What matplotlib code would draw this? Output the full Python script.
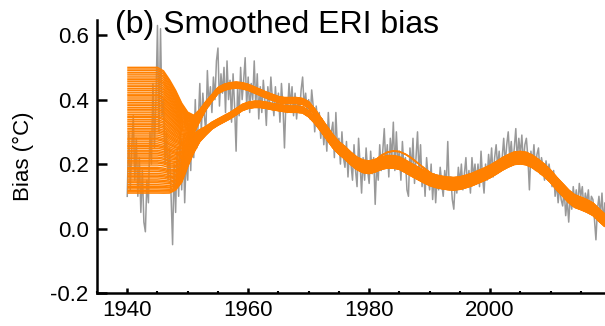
import numpy as np
import matplotlib
matplotlib.use("Agg")
import matplotlib.pyplot as plt
from matplotlib.ticker import MultipleLocator

plt.rcParams['font.family'] = ['Liberation Sans', 'DejaVu Sans']

# ---------------- data ----------------
# gray: raw ERI bias, quarterly readings 1940.00 .. 2019.75
gray_start = 1940.0
gray_step = 0.25
gray_vals = [
    0.10, 0.30, 0.12, 0.25,   # 1940
    0.35, 0.15, 0.28, 0.10,   # 1941
    0.22, 0.05, 0.18, 0.02,   # 1942
    -0.01, 0.15, 0.08, 0.30,  # 1943
    0.20, 0.45, 0.25, 0.40,   # 1944
    0.63, 0.30, 0.62, 0.35,   # 1945
    0.40, 0.20, 0.30, 0.15,   # 1946
    0.25, 0.10, -0.05, 0.20,  # 1947
    0.05, 0.25, 0.10, 0.30,   # 1948
    0.12, 0.28, 0.08, 0.22,   # 1949
    0.15, 0.30, 0.18, 0.35,   # 1950
    0.22, 0.40, 0.25, 0.33,   # 1951
    0.45, 0.30, 0.42, 0.35,   # 1952
    0.30, 0.49, 0.38, 0.44,   # 1953
    0.36, 0.47, 0.40, 0.52,   # 1954
    0.56, 0.38, 0.48, 0.42,   # 1955
    0.50, 0.36, 0.52, 0.40,   # 1956
    0.46, 0.33, 0.48, 0.38,   # 1957
    0.24, 0.44, 0.35, 0.50,   # 1958
    0.40, 0.46, 0.53, 0.38,   # 1959
    0.47, 0.36, 0.45, 0.40,   # 1960
    0.52, 0.38, 0.48, 0.34,   # 1961
    0.44, 0.36, 0.46, 0.40,   # 1962
    0.32, 0.44, 0.38, 0.47,   # 1963
    0.40, 0.35, 0.44, 0.37,   # 1964
    0.42, 0.33, 0.45, 0.38,   # 1965
    0.25, 0.40, 0.36, 0.45,   # 1966
    0.38, 0.44, 0.35, 0.42,   # 1967
    0.34, 0.40, 0.36, 0.43,   # 1968
    0.47, 0.38, 0.42, 0.36,   # 1969
    0.40, 0.34, 0.43, 0.38,   # 1970
    0.30, 0.38, 0.33, 0.36,   # 1971
    0.28, 0.34, 0.26, 0.32,   # 1972
    0.24, 0.36, 0.27, 0.30,   # 1973
    0.33, 0.22, 0.36, 0.25,   # 1974
    0.28, 0.20, 0.30, 0.22,   # 1975
    0.19, 0.27, 0.16, 0.24,   # 1976
    0.20, 0.15, 0.26, 0.18,   # 1977
    0.13, 0.28, 0.20, 0.11,   # 1978
    0.22, 0.15, 0.25, 0.18,   # 1979
    0.14, 0.24, 0.17, 0.22,   # 1980
    0.075, 0.20, 0.15, 0.26,  # 1981
    0.18, 0.24, 0.31, 0.20,   # 1982
    0.26, 0.16, 0.28, 0.22,   # 1983
    0.33, 0.18, 0.30, 0.20,   # 1984
    0.24, 0.15, 0.27, 0.19,   # 1985
    0.22, 0.12, 0.10, 0.25,   # 1986
    0.18, 0.28, 0.14, 0.22,   # 1987
    0.30, 0.17, 0.26, 0.13,   # 1988
    0.19, 0.10, 0.22, 0.16,   # 1989
    0.12, 0.20, 0.09, 0.17,   # 1990
    0.08, 0.16, 0.12, 0.19,   # 1991
    0.14, 0.10, 0.18, 0.13,   # 1992
    0.27, 0.12, 0.16, 0.09,   # 1993
    0.06, 0.15, 0.11, 0.19,   # 1994
    0.14, 0.20, 0.12, 0.17,   # 1995
    0.22, 0.13, 0.18, 0.11,   # 1996
    0.22, 0.16, 0.20, 0.14,   # 1997
    0.20, 0.13, 0.24, 0.16,   # 1998
    0.11, 0.20, 0.15, 0.23,   # 1999
    0.18, 0.25, 0.16, 0.22,   # 2000
    0.26, 0.19, 0.24, 0.18,   # 2001
    0.22, 0.28, 0.20, 0.26,   # 2002
    0.30, 0.22, 0.27, 0.20,   # 2003
    0.25, 0.31, 0.21, 0.28,   # 2004
    0.23, 0.29, 0.20, 0.26,   # 2005
    0.28, 0.22, 0.12, 0.24,   # 2006
    0.20, 0.26, 0.18, 0.23,   # 2007
    0.25, 0.17, 0.22, 0.19,   # 2008
    0.15, 0.21, 0.17, 0.20,   # 2009
    0.16, 0.13, 0.18, 0.10,   # 2010
    0.14, 0.08, 0.13, 0.09,   # 2011
    0.07, 0.12, 0.04, 0.09,   # 2012
    0.02, 0.10, 0.06, 0.13,   # 2013
    0.08, 0.12, 0.07, 0.14,   # 2014
    0.10, 0.13, 0.06, 0.11,   # 2015
    0.08, 0.12, 0.05, 0.10,   # 2016
    0.09, 0.03, -0.035, 0.06, # 2017
    0.10, 0.04, 0.11, 0.02,   # 2018
    0.08, 0.06, 0.10, 0.05,   # 2019
]

# orange: smoothed ensemble, yearly 1940..2019
smooth_years = list(range(1940, 2020))
start_vals = [0.110, 0.114, 0.118, 0.123, 0.128, 0.131, 0.136, 0.142, 0.147, 0.151,
              0.157, 0.162, 0.166, 0.171, 0.177, 0.182, 0.186, 0.190, 0.197, 0.203,
              0.207, 0.212, 0.218, 0.222, 0.228, 0.233, 0.238, 0.243, 0.249, 0.254,
              0.258, 0.263, 0.269, 0.275, 0.279, 0.284, 0.290, 0.296, 0.301, 0.306,
              0.311, 0.317, 0.322, 0.327, 0.333, 0.338, 0.344, 0.348, 0.353, 0.359,
              0.365, 0.370, 0.375, 0.381, 0.386, 0.391, 0.397, 0.402, 0.408, 0.413,
              0.417, 0.423, 0.429, 0.434, 0.440, 0.445, 0.451, 0.457, 0.462, 0.467,
              0.473, 0.479, 0.484, 0.490, 0.495, 0.500]
alt_members = [0.186, 0.190, 0.197]
split_value = 0.31
spread = 0.10
spread_center = 0.305

blend_weight = ([0.0] * 6 +
                [0.03, 0.11, 0.23, 0.41, 0.63, 0.78, 0.90, 0.96, 0.99] +
                [1.0] * 65)

path_early = [0.12, 0.12, 0.12, 0.12, 0.12, 0.12,
              0.12, 0.13, 0.17, 0.21, 0.26, 0.29]            # 1940-1951
path_common = [0.25, 0.235, 0.217, 0.202, 0.193,                # 1975-1979
               0.19, 0.195, 0.203, 0.207, 0.207, 0.203, 0.193, 0.182, 0.172, 0.162,
               0.153, 0.147, 0.143, 0.14, 0.139, 0.141, 0.146, 0.152, 0.16, 0.168,
               0.177, 0.188, 0.2, 0.21, 0.218, 0.22, 0.217, 0.208, 0.195, 0.18,
               0.162, 0.14, 0.12, 0.1, 0.085, 0.078, 0.07, 0.06, 0.042, 0.025]
path_hi = path_early + [0.335, 0.37, 0.395,                      # 1952-1954
                        0.418, 0.428, 0.433, 0.435, 0.433, 0.428, 0.42, 0.412, 0.404, 0.397,
                        0.39, 0.387, 0.387, 0.387, 0.384, 0.374, 0.352, 0.325, 0.298, 0.272
                        ] + path_common
path_lo = path_early + [0.307, 0.317, 0.33,
                        0.34, 0.35, 0.36, 0.372, 0.385, 0.392, 0.395, 0.395, 0.392, 0.388,
                        0.385, 0.382, 0.38, 0.38, 0.378, 0.366, 0.346, 0.322, 0.296, 0.27
                        ] + path_common
alt_bump = [0.223, 0.238, 0.248, 0.252, 0.25, 0.242, 0.23, 0.215, 0.2,
            0.186, 0.173, 0.162, 0.155, 0.15]                   # 1981-1994
path_alt = path_lo[:41] + alt_bump + path_lo[55:]

xlim = (1935, 2019)
ylim = (-0.2, 0.647)
title = "(b) Smoothed ERI bias"
ylabel = "Bias (\u00b0C)"

# ---------------- figure ----------------
fig = plt.figure(figsize=(6.05, 3.26), dpi=100)
ax = fig.add_axes([97 / 605, 33 / 326, 508 / 605, 273 / 326])

gx = gray_start + gray_step * np.arange(len(gray_vals))
ax.plot(gx, gray_vals, color='#999999', lw=1.1, zorder=2)

w = np.array(blend_weight)
yrs = np.array(smooth_years)
for s in start_vals:
    if s in alt_members:
        p = np.array(path_alt)
    elif s >= split_value:
        p = np.array(path_hi)
    else:
        p = np.array(path_lo)
    y = s * (1 - w) + (p + spread * (s - spread_center)) * w
    ax.plot(yrs, y, color='#ff8000', lw=1.05, zorder=3, solid_capstyle='butt')

ax.set_xlim(*xlim)
ax.set_ylim(*ylim)
for side in ('top', 'right'):
    ax.spines[side].set_visible(False)
for side in ('left', 'bottom'):
    ax.spines[side].set_linewidth(1.8)

ax.xaxis.set_major_locator(MultipleLocator(20))
ax.xaxis.set_minor_locator(MultipleLocator(5))
ax.set_yticks([-0.2, 0.0, 0.2, 0.4, 0.6])
ax.set_yticklabels(['-0.2', '0.0', '0.2', '0.4', '0.6'])
ax.tick_params(axis='y', direction='in', length=7, width=1.8, labelsize=16, pad=6)
ax.tick_params(axis='x', which='major', direction='in', length=3.5, width=1.8, labelsize=16, pad=5)
ax.tick_params(axis='x', which='minor', direction='in', length=1.5, width=1.5)

ax.set_ylabel(ylabel, fontsize=16, labelpad=12)
fig.text(115 / 605, 1 - 33 / 326, title, fontsize=23, ha='left', va='baseline')

fig.savefig('out.png', dpi=100)
